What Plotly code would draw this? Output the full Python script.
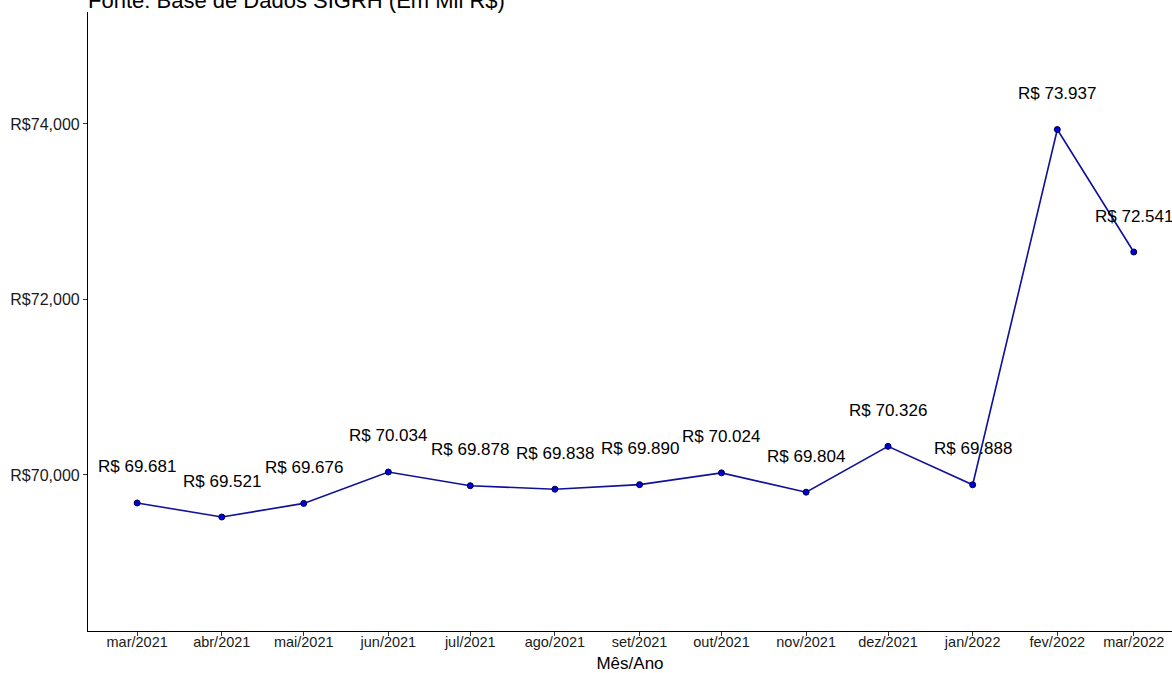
import plotly.graph_objects as go

# monthly values (Em Mil R$)
meses = ["2021-03-01", "2021-04-01", "2021-05-01", "2021-06-01", "2021-07-01",
         "2021-08-01", "2021-09-01", "2021-10-01", "2021-11-01", "2021-12-01",
         "2022-01-01", "2022-02-01", "2022-03-01"]
rotulos_x = ["mar/2021", "abr/2021", "mai/2021", "jun/2021", "jul/2021",
             "ago/2021", "set/2021", "out/2021", "nov/2021", "dez/2021",
             "jan/2022", "fev/2022", "mar/2022"]
valores = [69681, 69521, 69676, 70034, 69878, 69838, 69890,
           70024, 69804, 70326, 69888, 73937, 72541]
y_ticks = [70000, 72000, 74000]
y_rotulos = ["R$70,000", "R$72,000", "R$74,000"]

FONT = "Liberation Sans, Arial, sans-serif"


def fmt_brl(v):
    return "R$ " + f"{v:,}".replace(",", ".")


fig = go.Figure()
fig.add_trace(go.Scatter(
    x=meses,
    y=valores,
    mode="lines+markers",
    line=dict(color="#10109A", width=1.6),
    marker=dict(size=6, color="#0000DD", line=dict(color="#000040", width=1)),
    showlegend=False,
    cliponaxis=False,
))

# value labels above each point
for m, v in zip(meses, valores):
    fig.add_annotation(
        x=m, y=v, text=fmt_brl(v), showarrow=False,
        yshift=36, font=dict(size=17, color="#000000", family=FONT),
    )

fig.update_layout(
    width=1172,
    height=673,
    paper_bgcolor="white",
    plot_bgcolor="white",
    margin=dict(l=88, r=0, t=12, b=42),
    font=dict(family=FONT, color="#000000"),
    title=dict(
        text="Fonte: Base de Dados SIGRH (Em Mil R$)",
        x=88 / 1172, xanchor="left", xref="container",
        y=0.999, yanchor="middle",
        font=dict(size=22, color="#000000", family=FONT),
    ),
    xaxis=dict(
        type="date",
        range=["2021-02-11", "2022-03-15"],
        tickvals=meses,
        ticktext=rotulos_x,
        showgrid=False,
        zeroline=False,
        showline=True,
        linecolor="#000000",
        linewidth=1.2,
        ticks="outside",
        ticklen=4,
        tickcolor="#333333",
        ticklabelstandoff=-7,
        automargin=False,
        tickfont=dict(size=14.5, color="#1a1a1a"),
        title=dict(text="Mês/Ano", font=dict(size=17, color="#000000"), standoff=14),
    ),
    yaxis=dict(
        range=[68222, 75276],
        tickvals=y_ticks,
        ticktext=y_rotulos,
        showgrid=False,
        zeroline=False,
        showline=True,
        linecolor="#000000",
        linewidth=1.2,
        ticks="outside",
        ticklen=4,
        tickcolor="#333333",
        automargin=False,
        tickfont=dict(size=16, color="#1a1a1a"),
    ),
)

fig.write_html(
    "out.html",
    config={"displayModeBar": False},
    post_script="document.body.style.margin='0';document.body.style.overflow='hidden';",
)
